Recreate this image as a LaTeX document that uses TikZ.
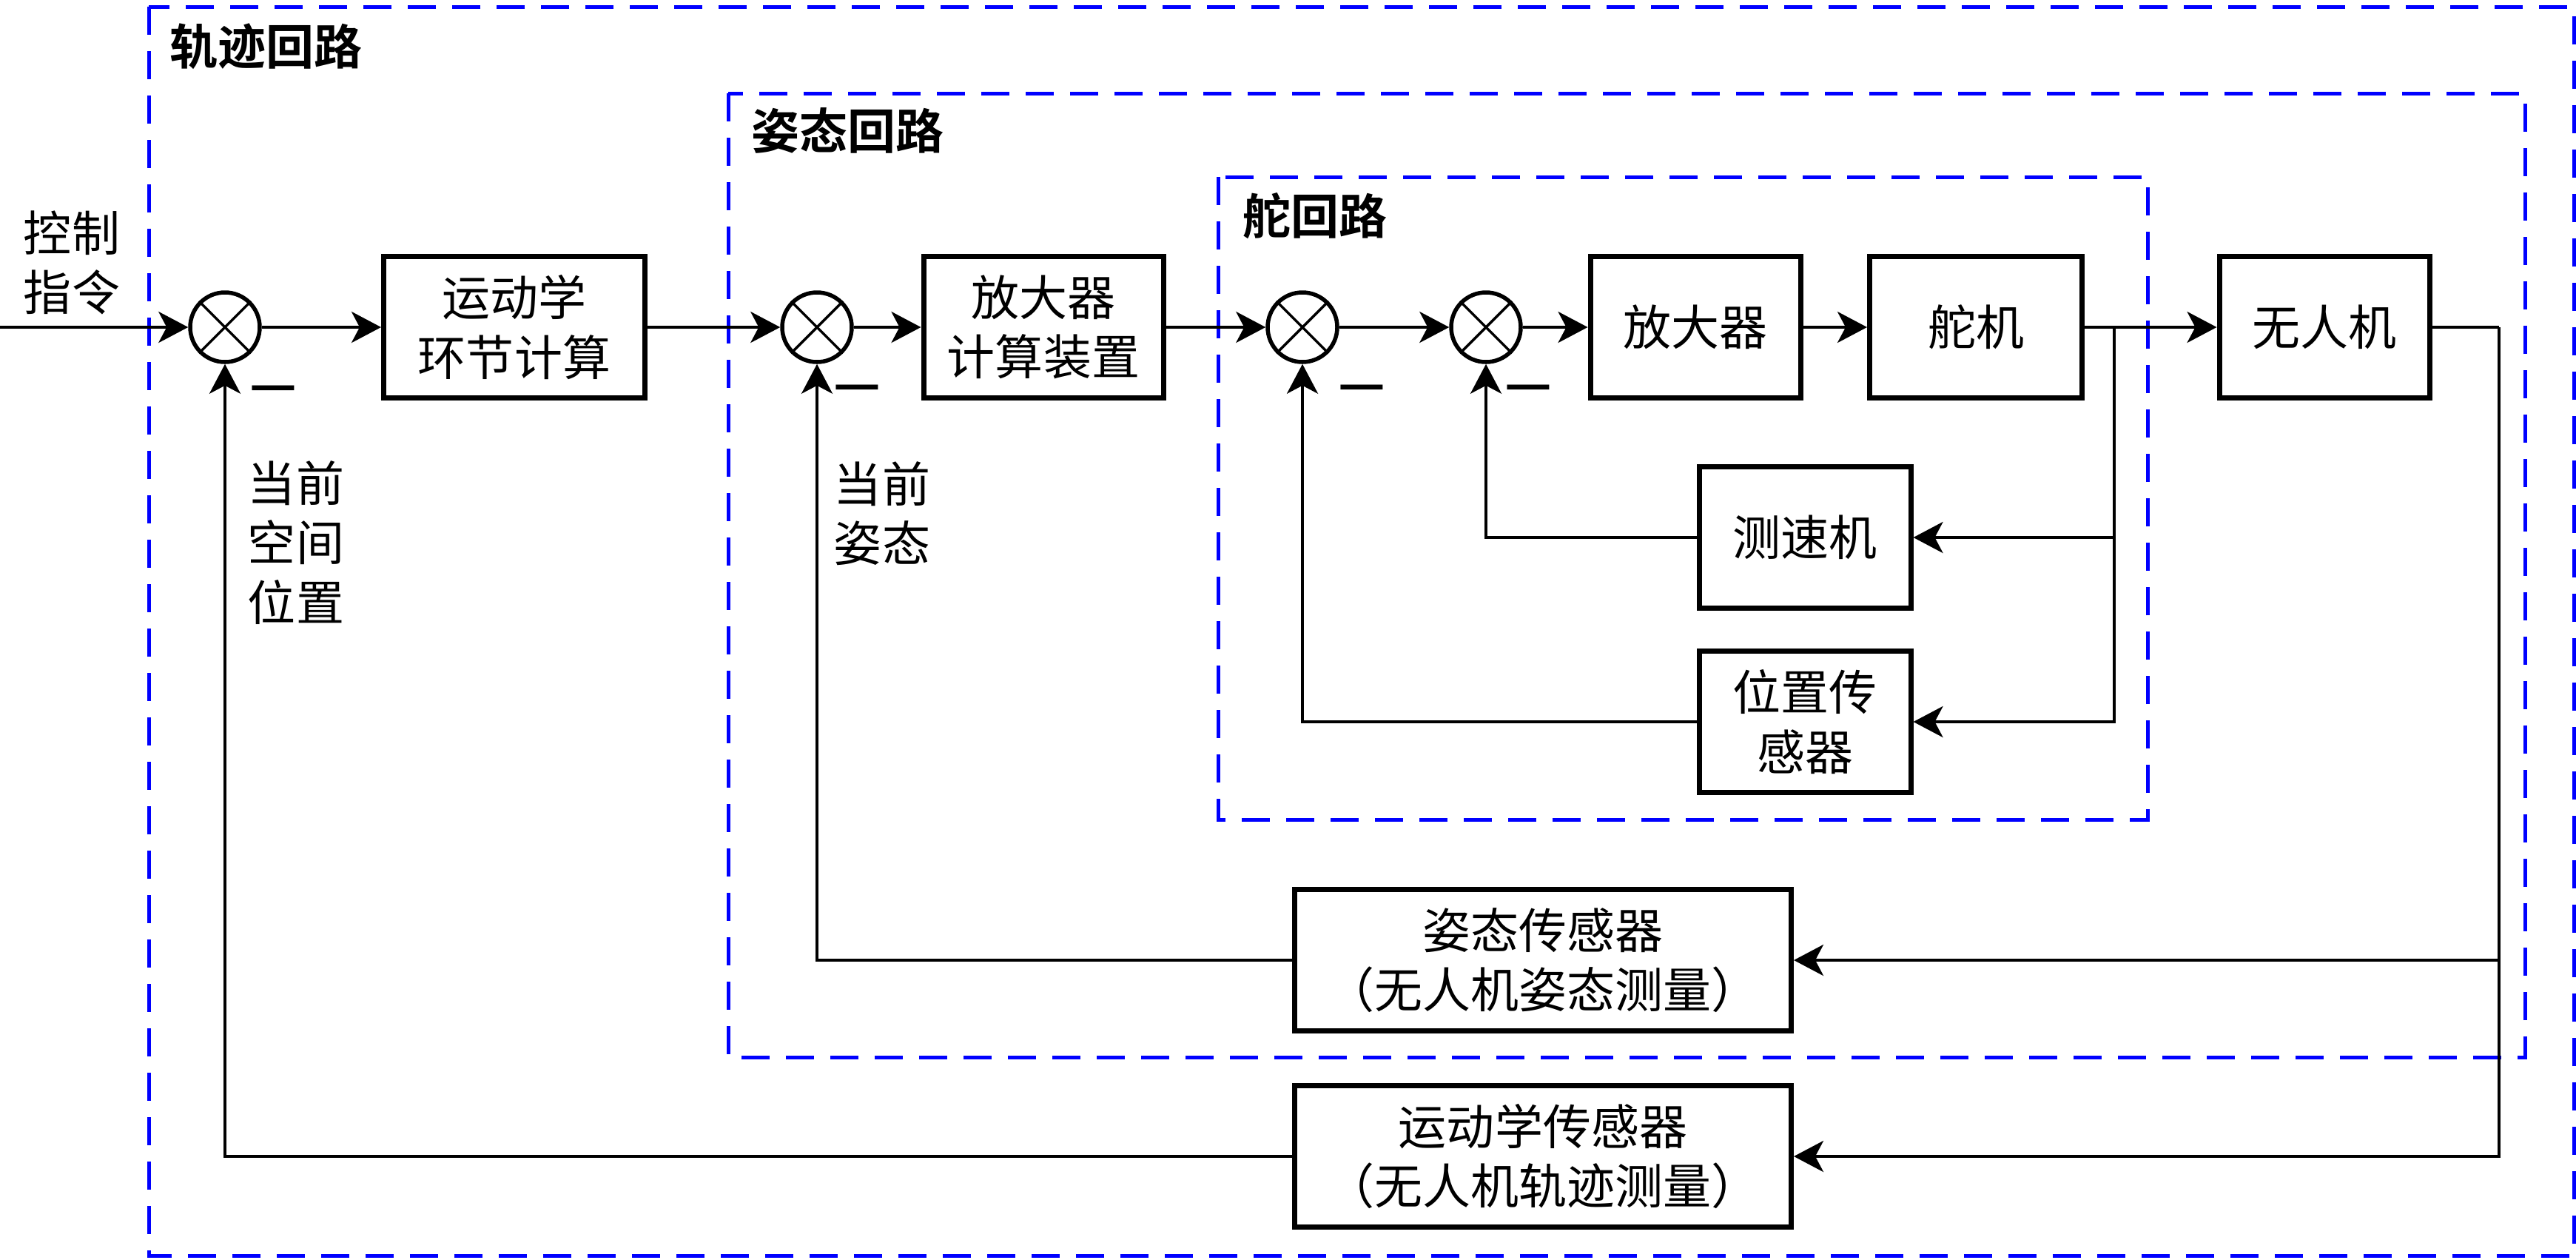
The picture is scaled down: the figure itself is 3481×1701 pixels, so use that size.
\documentclass[tikz,border=0pt]{standalone}
\usepackage{fontspec}
\setmainfont{Noto Sans CJK SC}[BoldFont={Noto Sans CJK SC Bold}]
\usetikzlibrary{arrows.meta}
\tikzset{blk/.style={draw, line width=0.7mm, minimum height=19.1mm, align=center, inner sep=0pt},
  sumnode/.style={draw, circle, line width=0.55mm, minimum size=9.4mm, inner sep=0pt},
  arr/.style={-{Stealth[length=4mm,width=4.2mm,inset=1.1mm]}},
  loopbox/.style={draw=blue, line width=0.5mm, dash pattern=on 3.8mm off 2.2mm},
  looptitle/.style={font=\fontsize{18.5pt}{22.8pt}\selectfont\bfseries, anchor=west, inner sep=0pt},
  lbl/.style={align=center, inner sep=0pt},
  minus/.style={inner sep=0pt, font=\fontsize{20pt}{22pt}\selectfont\bfseries}}

\begin{document}
\begin{tikzpicture}[x=0.1mm, y=-0.1mm, line width=0.4mm, font=\fontsize{18.5pt}{22.8pt}\selectfont]
\useasboundingbox (0,0) rectangle (3481,1701);
\draw[loopbox] (201,9) rectangle (3478,1696);
\draw[loopbox] (984,126) rectangle (3412,1428);
\draw[loopbox] (1646,239) rectangle (2902,1107);
\node[looptitle] (t1) at (227,63) {轨迹回路};
\node[looptitle] (t2) at (1013,176) {姿态回路};
\node[looptitle] (t3) at (1677,292) {舵回路};

\node[sumnode] (s1) at (304,442) {};
\node[sumnode] (s2) at (1104,442) {};
\node[sumnode] (s3) at (1760,442) {};
\node[sumnode] (s4) at (2008,442) {};
\foreach \s in {s1,s2,s3,s4}
  \draw[line width=0.35mm] (\s.45) -- (\s.225) (\s.135) -- (\s.-45);

\node[blk, minimum width=35.3mm] (kin) at (695,442) {运动学\\环节计算};
\node[blk, minimum width=32.4mm] (amp1) at (1410,442) {放大器\\计算装置};
\node[blk, minimum width=28.4mm] (amp2) at (2291,442) {放大器};
\node[blk, minimum width=28.7mm] (servo) at (2670,442) {舵机};
\node[blk, minimum width=28.4mm] (uav) at (3141,442) {无人机};
\node[blk, minimum width=28.6mm] (tacho) at (2439,726) {测速机};
\node[blk, minimum width=28.6mm] (pos) at (2439,975) {位置传\\感器};
\node[blk, minimum width=67.1mm] (att) at (2085,1297) {姿态传感器\\（无人机姿态测量）};
\node[blk, minimum width=67.1mm] (kins) at (2085,1562) {运动学传感器\\（无人机轨迹测量）};

\node[lbl] (cmd) at (97,355) {控制\\指令};
\node[lbl] (curpos) at (400,733) {当前\\空间\\位置};
\node[lbl] (curatt) at (1192,694) {当前\\姿态};
\node[minus] (m1) at (369,533) {—};
\node[minus] (m2) at (1158,532) {—};
\node[minus] (m3) at (1840,532) {—};
\node[minus] (m4) at (2065,532) {—};

\coordinate (in) at (0,442);
\coordinate (b1) at (2857,442);
\coordinate (b2) at (3377,442);
\draw[arr] (in) -- (s1);
\draw[arr] (s1) -- (kin);
\draw[arr] (kin) -- (s2);
\draw[arr] (s2) -- (amp1);
\draw[arr] (amp1) -- (s3);
\draw[arr] (s3) -- (s4);
\draw[arr] (s4) -- (amp2);
\draw[arr] (amp2) -- (servo);
\draw[arr] (servo) -- (uav);
\draw[arr] (b1) |- (tacho);
\draw[arr] (b1) |- (pos);
\draw (uav) -- (b2);
\draw[arr] (b2) |- (att);
\draw[arr] (b2) |- (kins);
\draw[arr] (tacho) -| (s4);
\draw[arr] (pos) -| (s3);
\draw[arr] (att) -| (s2);
\draw[arr] (kins) -| (s1);
\end{tikzpicture}
\end{document}
